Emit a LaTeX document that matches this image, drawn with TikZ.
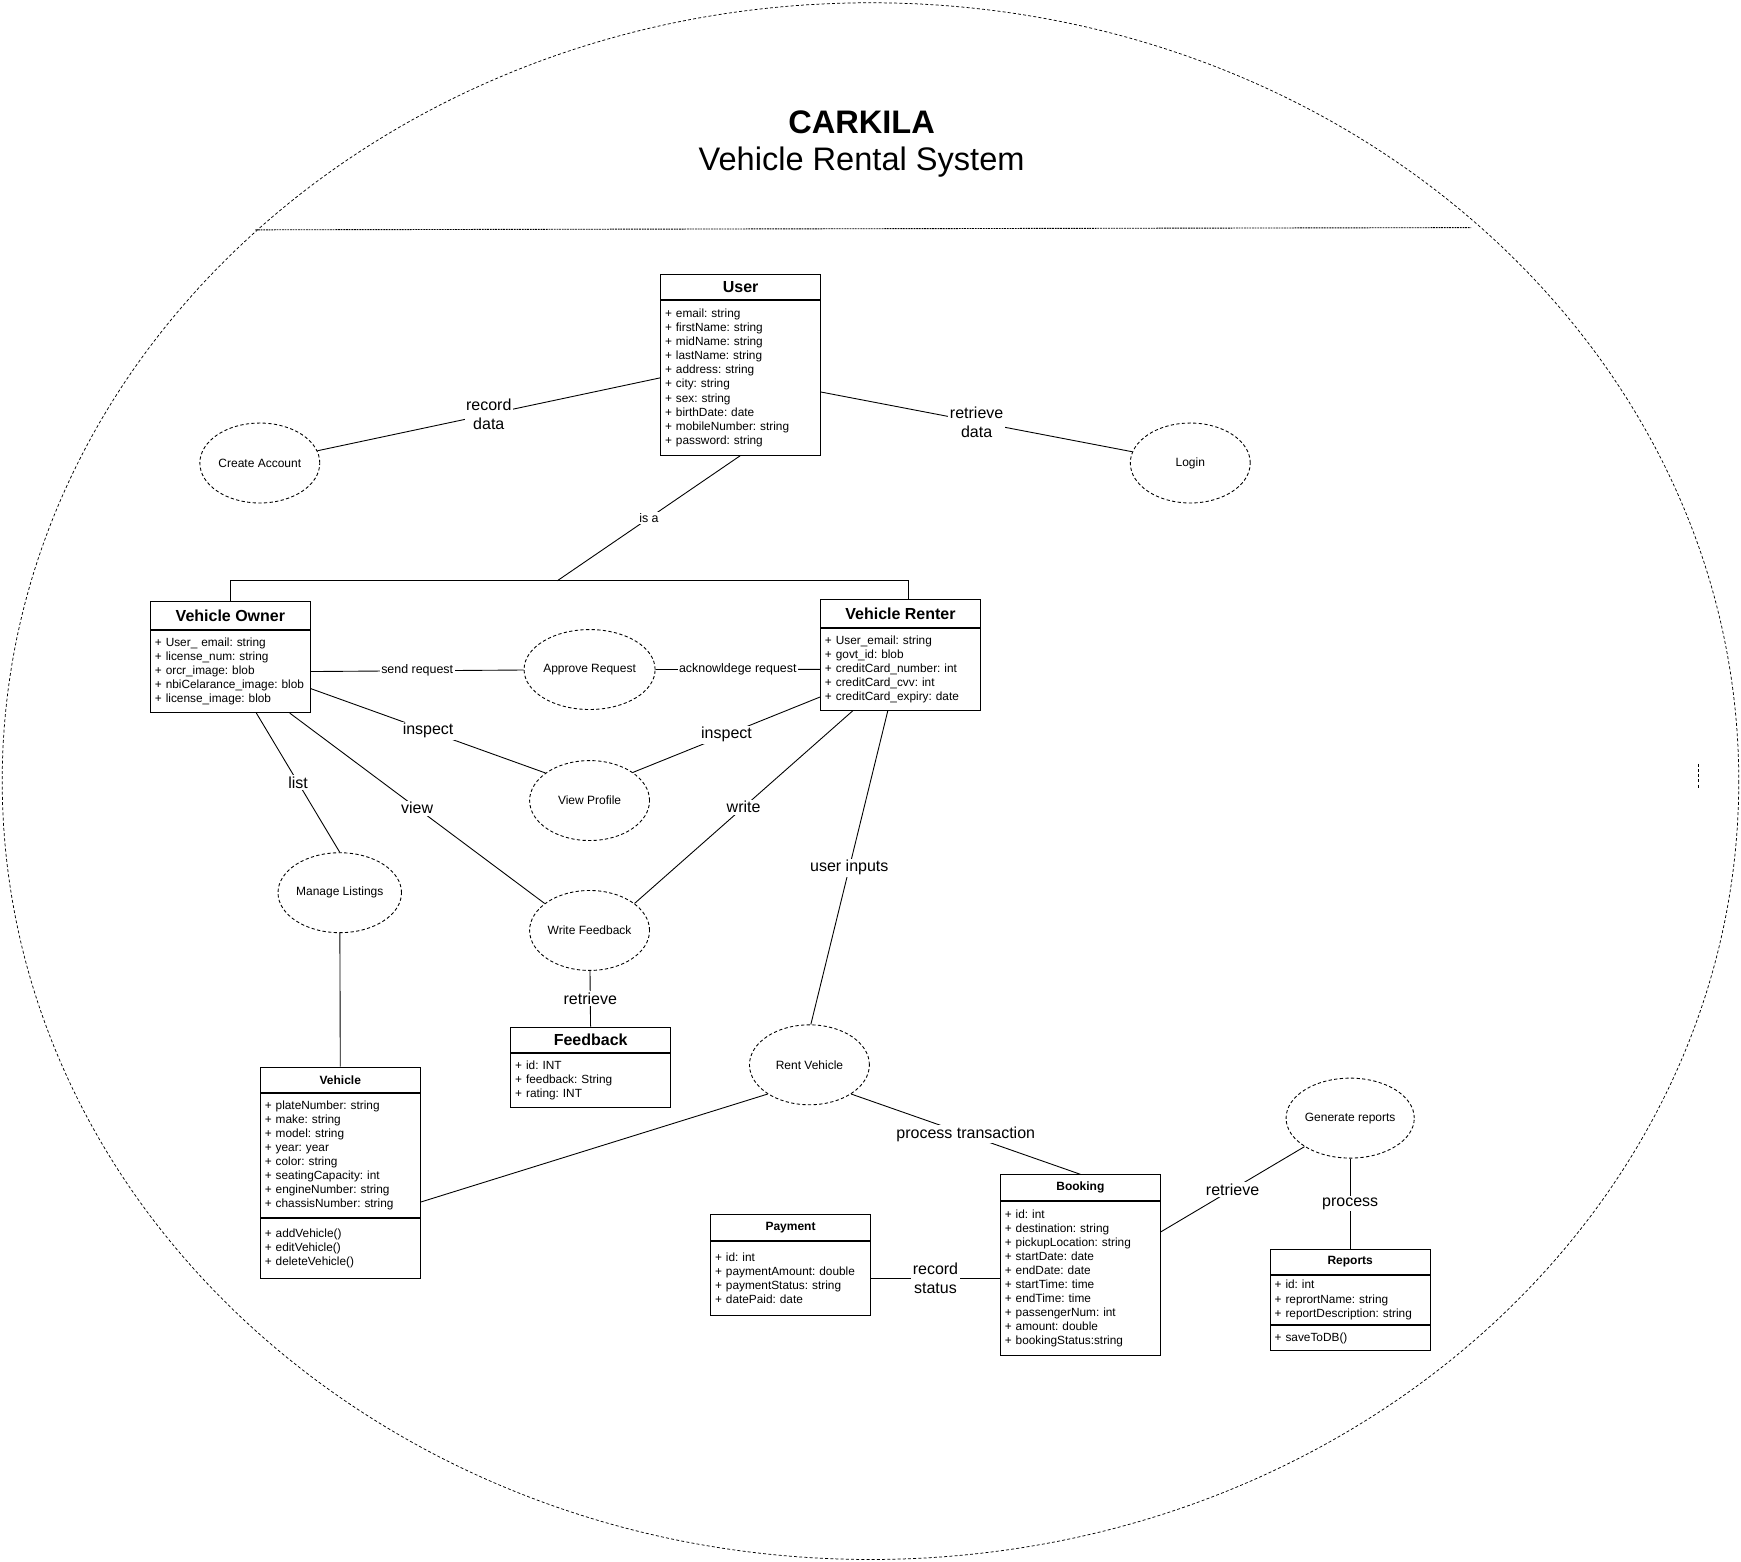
\documentclass[tikz,border=0pt]{standalone}
\usepackage{fontspec}
\setmainfont{Liberation Sans}
\usetikzlibrary{positioning,shapes.geometric,calc}

\begin{document}
\begin{tikzpicture}[x=0.75pt,y=0.75pt,yscale=-1,xscale=1,line width=0.6pt,
  hdr/.style={draw, minimum width=108pt, inner sep=0pt, font=\fontsize{10.8}{13}\selectfont\bfseries},
  hdrsmall/.style={draw, minimum width=108pt, minimum height=17.25pt, inner sep=0pt, font=\fontsize{8.1}{9.7}\selectfont\bfseries},
  attrs/.style={draw, text width=102pt, inner xsep=3pt, inner ysep=0pt, align=left, font=\fontsize{8}{9.5}\selectfont\frenchspacing},
  usecase/.style={draw, dash pattern=on 2.2pt off 1.6pt, ellipse, minimum width=81pt, minimum height=54pt, inner sep=0pt, font=\fontsize{8.1}{9.7}\selectfont},
  lbl/.style={fill=white, inner sep=1pt, align=center, font=\fontsize{10.8}{12.75}\selectfont},
  smalllbl/.style={fill=white, inner sep=1pt, font=\fontsize{8.4}{10}\selectfont}]
%set diagram left start at 0, and has height of 1406
\useasboundingbox (0,0) rectangle (1568,1406);

%Shape: Ellipse [system boundary]
\draw [dash pattern=on 2pt off 1.5pt, line width=0.5pt] (784,703.5) ellipse [x radius=782, y radius=701];
%Straight Lines [title divider]
\draw [dash pattern=on 1.2pt off 0.6pt] (230,207) -- (1325,205);
%Straight Lines [mark]
\draw [dash pattern=on 2pt off 1.5pt, line width=0.5pt] (1530,688) -- (1530,711);

% Text Node
\node (title) at (776,110) {\fontsize{22}{26}\selectfont\bfseries CARKILA};
% Text Node
\node (subtitle) at (776,146) {\fontsize{22}{26}\selectfont Vehicle Rental System};

%Class: User
\node [hdr, minimum height=17.25pt] (userH) at (667,258.5) {User};
\node [attrs, minimum height=104.25pt, below=0pt of userH] (userA) {+ email: string\\+ firstName: string\\+ midName: string\\+ lastName: string\\+ address: string\\+ city: string\\+ sex: string\\+ birthDate: date\\+ mobileNumber: string\\+ password: string};

%Class: Vehicle Owner
\node [hdr, minimum height=18.75pt] (ownerH) at (207.5,554.5) {Vehicle Owner};
\node [attrs, minimum height=55.5pt, below=0pt of ownerH] (ownerA) {+ User\_ email: string\\+ license\_num: string\\+ orcr\_image: blob\\\mbox{+ nbiCelarance\_image: blob}\\+ license\_image: blob};

%Class: Vehicle Renter
\node [hdr, minimum height=18.75pt] (renterH) at (811,552.5) {Vehicle Renter};
\node [attrs, minimum height=55.5pt, below=0pt of renterH] (renterA) {+ User\_email: string\\+ govt\_id: blob\\+ creditCard\_number: int\\+ creditCard\_cvv: int\\+ creditCard\_expiry: date};

%Class: Feedback
\node [hdr, minimum height=17.25pt] (feedbackH) at (532,936.5) {Feedback};
\node [attrs, minimum height=36.75pt, below=0pt of feedbackH] (feedbackA) {+ id: INT\\+ feedback: String\\+ rating: INT};

%Class: Vehicle
\node [hdrsmall] (vehicleH) at (306.5,972.5) {Vehicle};
\node [attrs, minimum height=84pt, below=0pt of vehicleH] (vehicleA) {+ plateNumber: string\\+ make: string\\+ model: string\\+ year: year\\+ color: string\\+ seatingCapacity: int\\+ engineNumber: string\\+ chassisNumber: string};
\node [attrs, minimum height=40.5pt, below=0pt of vehicleA] (vehicleM) {+ addVehicle()\\+ editVehicle()\\+ deleteVehicle()};

%Class: Booking
\node [hdrsmall] (bookingH) at (973,1069.5) {Booking};
\node [attrs, minimum height=104.25pt, below=0pt of bookingH] (bookingA) {+ id: int\\+ destination: string\\+ pickupLocation: string\\+ startDate: date\\+ endDate: date\\+ startTime: time\\+ endTime: time\\+ passengerNum: int\\+ amount: double\\+ bookingStatus:string};

%Class: Payment
\node [hdrsmall] (paymentH) at (712,1105.5) {Payment};
\node [attrs, minimum height=50.25pt, below=0pt of paymentH] (paymentA) {+ id: int\\+ paymentAmount: double\\+ paymentStatus: string\\+ datePaid: date};

%Class: Reports
\node [hdrsmall] (reportsH) at (1216,1136.5) {Reports};
\node [attrs, minimum height=33pt, below=0pt of reportsH] (reportsA) {+ id: int\\+ reprortName: string\\+ reportDescription: string};
\node [attrs, minimum height=17.25pt, below=0pt of reportsA] (reportsM) {+ saveToDB()};

%Shape: Ellipse [use cases]
\node [usecase] (create) at (234,417) {Create Account};
\node [usecase] (login) at (1072,417) {Login};
\node [usecase] (approve) at (531,603) {Approve Request};
\node [usecase] (view) at (531,721) {View Profile};
\node [usecase] (writefb) at (531,838) {Write Feedback};
\node [usecase] (manage) at (306,804) {Manage Listings};
\node [usecase] (rent) at (729,959) {Rent Vehicle};
\node [usecase] (genrep) at (1216,1007) {Generate reports};

%Straight Lines
\draw (userA.west) -- node [lbl] {record\\data} (create.12);
\draw (userA.-10) -- node [lbl] {retrieve\\data} (login.169);
\coordinate (isa) at (502,523);
\draw (userA.south) -- node [smalllbl] {is a} (isa);
\draw (ownerH.north) |- (isa) -| ($(renterH.north)+(7,0)$);
\draw (ownerA.east) -- node [smalllbl] {send request} (approve);
\draw (approve) -- node [smalllbl] {acknowldege request} (renterA.west);
\draw (ownerA.-12) -- node [lbl] {inspect} (view.148);
\draw (renterA.199) -- node [lbl] {inspect} (view.33);
\draw (ownerA.-35) -- node [lbl] {view} (writefb.149);
\draw (renterA.221) -- node [lbl] {write} (writefb.31);
\draw (ownerA.-58) -- node [lbl] {list} (manage.north);
\draw (manage) -- (vehicleH);
\draw (writefb) -- node [lbl] {retrieve} (feedbackH);
\draw (renterA.253) -- node [lbl] {user inputs} (rent.88);
\draw (vehicleA.-30) -- (rent.215);
\draw (rent.-35) -- node [lbl] {process transaction} (bookingH.north);
\draw (paymentA.east) -- node [lbl] {record\\status} (paymentA.east -| bookingA.west);
\draw (bookingA.30) -- node [lbl] {retrieve} (genrep.212);
\draw (genrep) -- node [lbl] {process} (reportsH);

\end{tikzpicture}
\end{document}
